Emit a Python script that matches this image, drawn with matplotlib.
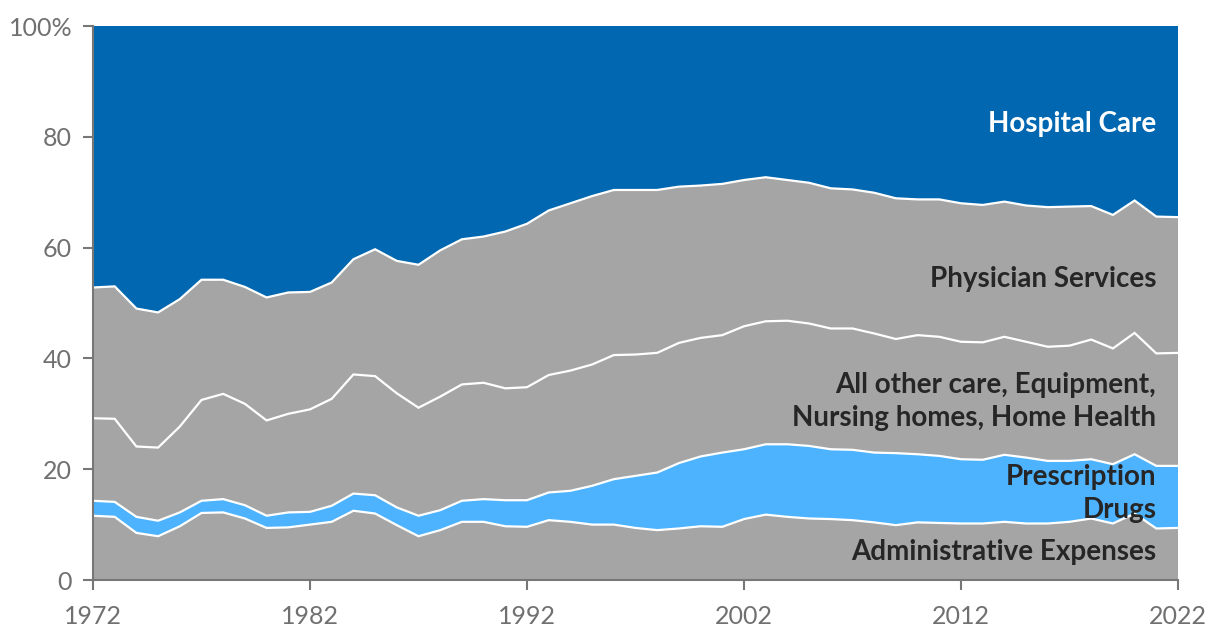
import matplotlib
matplotlib.use("Agg")
import matplotlib.pyplot as plt
import numpy as np

plt.rcParams['font.family'] = ['Lato', 'DejaVu Sans']

years = list(range(1972, 2023))

administrative = [11.6, 11.4, 8.5, 7.9, 9.7, 12.1, 12.2, 11.1, 9.4, 9.5,
                  10.0, 10.5, 12.5, 12.0, 9.9, 7.9, 9.0, 10.5, 10.5, 9.7,
                  9.6, 10.8, 10.5, 10.0, 10.0, 9.4, 9.0, 9.3, 9.7, 9.6,
                  11.0, 11.8, 11.4, 11.1, 11.0, 10.8, 10.4, 9.9, 10.4, 10.3,
                  10.2, 10.2, 10.5, 10.2, 10.2, 10.5, 11.1, 10.2, 12.0, 9.3,
                  9.4]
prescription_drugs = [2.7, 2.7, 2.9, 2.8, 2.5, 2.2, 2.4, 2.4, 2.2, 2.7,
                      2.3, 2.9, 3.1, 3.3, 3.2, 3.7, 3.6, 3.8, 4.1, 4.7,
                      4.8, 5.0, 5.6, 7.0, 8.2, 9.4, 10.4, 11.8, 12.6, 13.4,
                      12.6, 12.7, 13.1, 13.1, 12.6, 12.7, 12.6, 13.0, 12.3, 12.1,
                      11.6, 11.5, 12.1, 11.9, 11.3, 11.0, 10.7, 10.7, 10.7, 11.3,
                      11.2]
all_other = [14.9, 15.0, 12.7, 13.2, 15.5, 18.2, 19.0, 18.3, 17.2, 17.8,
             18.5, 19.3, 21.5, 21.5, 20.6, 19.5, 20.5, 21.0, 21.0, 20.2,
             20.4, 21.2, 21.7, 21.9, 22.4, 21.9, 21.6, 21.7, 21.4, 21.2,
             22.2, 22.2, 22.3, 22.1, 21.8, 21.9, 21.5, 20.6, 21.5, 21.5,
             21.2, 21.2, 21.3, 20.9, 20.6, 20.8, 21.6, 20.9, 21.9, 20.3,
             20.4]
physician = [23.6, 23.9, 24.9, 24.4, 23.0, 21.7, 20.6, 21.1, 22.2, 21.9,
             21.2, 21.0, 20.8, 22.9, 23.9, 25.8, 26.4, 26.2, 26.4, 28.3,
             29.5, 29.7, 30.2, 30.4, 29.8, 29.7, 29.4, 28.2, 27.5, 27.3,
             26.4, 26.0, 25.4, 25.4, 25.3, 25.1, 25.4, 25.4, 24.5, 24.8,
             25.0, 24.8, 24.4, 24.6, 25.2, 25.1, 24.1, 24.1, 23.9, 24.7,
             24.5]
hospital = [47.2, 47.0, 51.0, 51.7, 49.3, 45.8, 45.8, 47.1, 49.0, 48.1,
            48.0, 46.3, 42.1, 40.3, 42.4, 43.1, 40.5, 38.5, 38.0, 37.1,
            35.7, 33.3, 32.0, 30.7, 29.6, 29.6, 29.6, 29.0, 28.8, 28.5,
            27.8, 27.3, 27.8, 28.3, 29.3, 29.5, 30.1, 31.1, 31.3, 31.3,
            32.0, 32.3, 31.7, 32.4, 32.7, 32.6, 32.5, 34.1, 31.5, 34.4,
            34.5]

series_labels = ["Administrative Expenses", "Prescription\nDrugs",
                 "All other care, Equipment,\nNursing homes, Home Health",
                 "Physician Services", "Hospital Care"]
label_y = [5.0, 15.6, 32.2, 54.4, 82.3]
label_colors = ["#262626", "#262626", "#262626", "#262626", "white"]

x_ticks = [1972, 1982, 1992, 2002, 2012, 2022]
y_ticks = [0, 20, 40, 60, 80, 100]
y_ticklabels = ["0", "20", "40", "60", "80", "100%"]

GRAY = "#a5a5a5"
LIGHT = "#4db3ff"
DARK = "#0067b0"
colors = [GRAY, LIGHT, GRAY, GRAY, DARK]

fig = plt.figure(figsize=(12.2, 6.42), dpi=100)
ax = fig.add_axes([93/1220, 1 - 580/642, (1178-93)/1220, (580-26)/642])

data = np.array([administrative, prescription_drugs, all_other, physician, hospital])
x = np.array(years)
data = data / data.sum(axis=0) * 100
ax.stackplot(x, data, colors=colors, linewidth=0)
cum = np.cumsum(data, axis=0)
for i in range(4):
    ax.plot(x, cum[i], color="white", lw=1.6, solid_joinstyle="miter")

for lab, yv, c in zip(series_labels, label_y, label_colors):
    ax.text(2021, yv, lab, ha="right", va="center", fontsize=20,
            fontweight="bold", color=c, linespacing=1.35)

ax.set_xlim(1972, 2022)
ax.set_ylim(0, 100)
ax.set_xticks(x_ticks)
ax.set_yticks(y_ticks)
ax.set_yticklabels(y_ticklabels)
for s in ["top", "right"]:
    ax.spines[s].set_visible(False)
for s in ["left", "bottom"]:
    ax.spines[s].set_color("#777777")
    ax.spines[s].set_linewidth(1.5)
ax.tick_params(axis="both", colors="#777777", labelcolor="#707070",
               labelsize=18, width=1.5, length=7, direction="out")
ax.tick_params(axis="x", pad=11)
ax.tick_params(axis="y", pad=8)

fig.savefig("out.png", dpi=100)
